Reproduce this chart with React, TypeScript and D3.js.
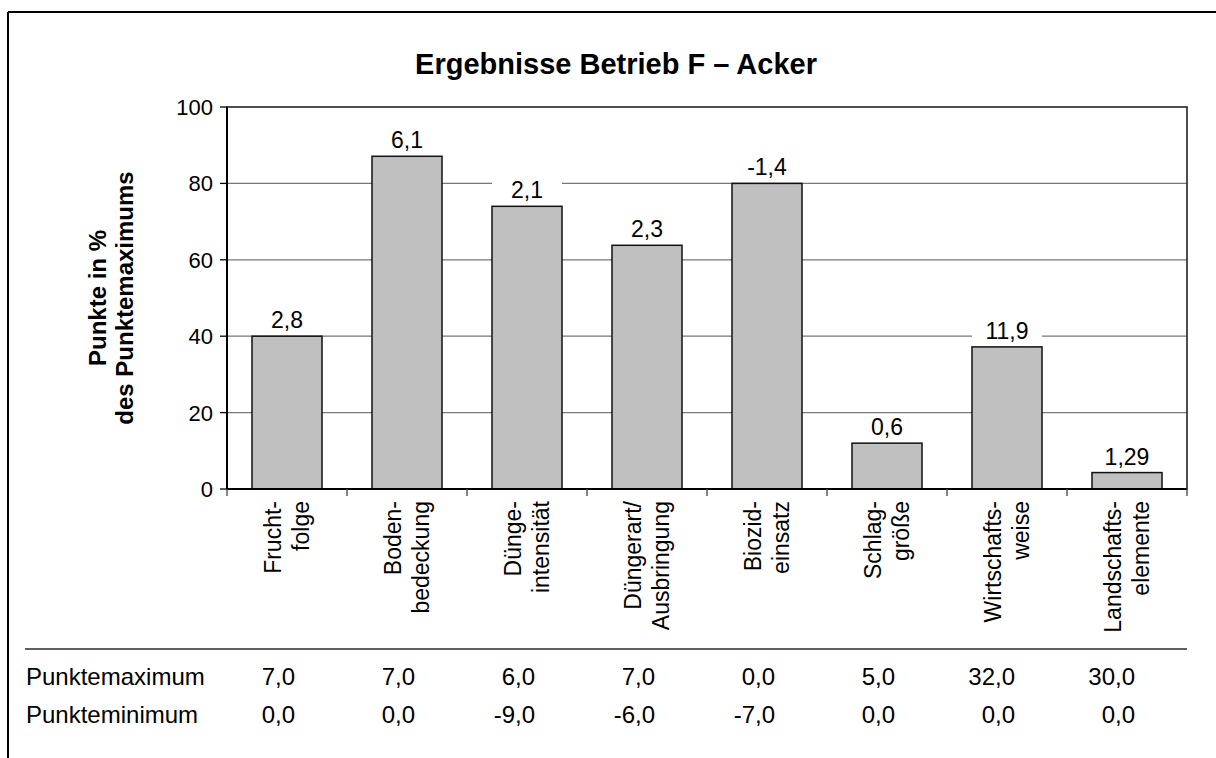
import React from "react";
import * as d3 from "d3";

const categories: string[][] = [
  ["Frucht-", "folge"],
  ["Boden-", "bedeckung"],
  ["Dünge-", "intensität"],
  ["Düngerart/", "Ausbringung"],
  ["Biozid-", "einsatz"],
  ["Schlag-", "größe"],
  ["Wirtschafts-", "weise"],
  ["Landschafts-", "elemente"],
];
const percentValues = [40.0, 87.1, 74.0, 63.8, 80.0, 12.0, 37.2, 4.3];
const pointLabels = ["2,8", "6,1", "2,1", "2,3", "-1,4", "0,6", "11,9", "1,29"];
const punkteMaximum = ["7,0", "7,0", "6,0", "7,0", "0,0", "5,0", "32,0", "30,0"];
const punkteMinimum = ["0,0", "0,0", "-9,0", "-6,0", "-7,0", "0,0", "0,0", "0,0"];
const yTicks = [0, 20, 40, 60, 80, 100];
const title = "Ergebnisse Betrieb F – Acker";
const yLabelLines = ["Punkte in %", "des Punktemaximums"];
const tableRows = [
  { label: "Punktemaximum", values: punkteMaximum },
  { label: "Punkteminimum", values: punkteMinimum },
];

const FONT = "'Liberation Sans', Arial, Helvetica, sans-serif";

export default function App() {
  const W = 1216;
  const H = 758;
  const left = 227;
  const right = 1187;
  const top = 107;
  const bottom = 489;

  const ids = categories.map((_, i) => String(i));
  const x = d3
    .scaleBand<string>()
    .domain(ids)
    .range([left, right])
    .paddingInner(5 / 12)
    .paddingOuter(5 / 24);
  const step = x.step();
  const bw = x.bandwidth();
  const y = d3.scaleLinear().domain([0, 100]).range([bottom, top]);
  const center = (i: number) => (x(String(i)) as number) + bw / 2;
  const boundaries = d3.range(categories.length + 1).map((i) => left + i * step);

  return (
    <svg
      width={W}
      height={H}
      style={{ position: "absolute", left: 0, top: 0, background: "#fff" }}
      fontFamily={FONT}
    >
      <rect x={0} y={0} width={W} height={H} fill="#fff" />
      {/* outer frame (top and left) */}
      <line x1={8} y1={12} x2={W} y2={12} stroke="#000" strokeWidth={2} />
      <line x1={8} y1={12} x2={8} y2={H} stroke="#000" strokeWidth={2} />

      {/* title */}
      <text x={616} y={74} textAnchor="middle" fontSize={29} fontWeight="bold" fill="#000">
        {title}
      </text>

      {/* y axis label */}
      <g transform={`translate(0, ${(top + bottom) / 2})`}>
        {yLabelLines.map((t, i) => (
          <text
            key={i}
            transform={`translate(${98 + i * 27}, 0) rotate(-90)`}
            textAnchor="middle"
            dy="0.35em"
            fontSize={24}
            fontWeight="bold"
            fill="#000"
          >
            {t}
          </text>
        ))}
      </g>

      {/* gridlines */}
      {yTicks
        .filter((t) => t > 0 && t < 100)
        .map((t) => (
          <line key={t} x1={left} x2={right} y1={y(t)} y2={y(t)} stroke="#777" strokeWidth={1.3} />
        ))}

      {/* plot frame */}
      <rect x={left} y={top} width={right - left} height={bottom - top} fill="none" stroke="#222" strokeWidth={1.6} />

      {/* bars */}
      {percentValues.map((v, i) => (
        <rect
          key={i}
          x={x(String(i))}
          y={y(v)}
          width={bw}
          height={bottom - y(v)}
          fill="#c0c0c0"
          stroke="#111"
          strokeWidth={1.5}
        />
      ))}

      {/* value labels */}
      {percentValues.map((v, i) => (
        <g key={i}>
          <rect x={x(String(i))} y={y(v) - 29} width={bw} height={25} fill="#fff" />
          <text x={center(i)} y={y(v) - 8} textAnchor="middle" fontSize={23} fill="#000">
            {pointLabels[i]}
          </text>
        </g>
      ))}

      {/* y axis */}
      <line x1={left} x2={left} y1={top} y2={bottom} stroke="#000" strokeWidth={2} />
      {yTicks.map((t) => (
        <g key={t}>
          <line x1={left - 7} x2={left} y1={y(t)} y2={y(t)} stroke="#000" strokeWidth={1.3} />
          <text x={left - 14} y={y(t)} dy="0.36em" textAnchor="end" fontSize={22} fill="#000">
            {t}
          </text>
        </g>
      ))}

      {/* x axis */}
      <line x1={left} x2={right} y1={bottom} y2={bottom} stroke="#000" strokeWidth={2} />
      {boundaries.map((bx, i) => (
        <line key={i} x1={bx} x2={bx} y1={bottom} y2={bottom + 7} stroke="#444" strokeWidth={1.3} />
      ))}

      {/* category labels */}
      {categories.map((lines, i) =>
        lines.map((t, j) => (
          <text
            key={`${i}-${j}`}
            transform={`translate(${center(i) - 14 + j * 28}, 501) rotate(-90)`}
            textAnchor="end"
            dy="0.35em"
            fontSize={23}
            fill="#000"
          >
            {t}
          </text>
        ))
      )}

      {/* table */}
      <line x1={25} x2={right} y1={649} y2={649} stroke="#606060" strokeWidth={2} />
      {tableRows.map((row, r) => (
        <g key={r}>
          <text x={26} y={685 + r * 38} fontSize={24} fill="#000">
            {row.label}
          </text>
          {row.values.map((v, i) => (
            <text key={i} x={center(i) + 8} y={685 + r * 38} textAnchor="end" fontSize={24} fill="#000">
              {v}
            </text>
          ))}
        </g>
      ))}
    </svg>
  );
}
